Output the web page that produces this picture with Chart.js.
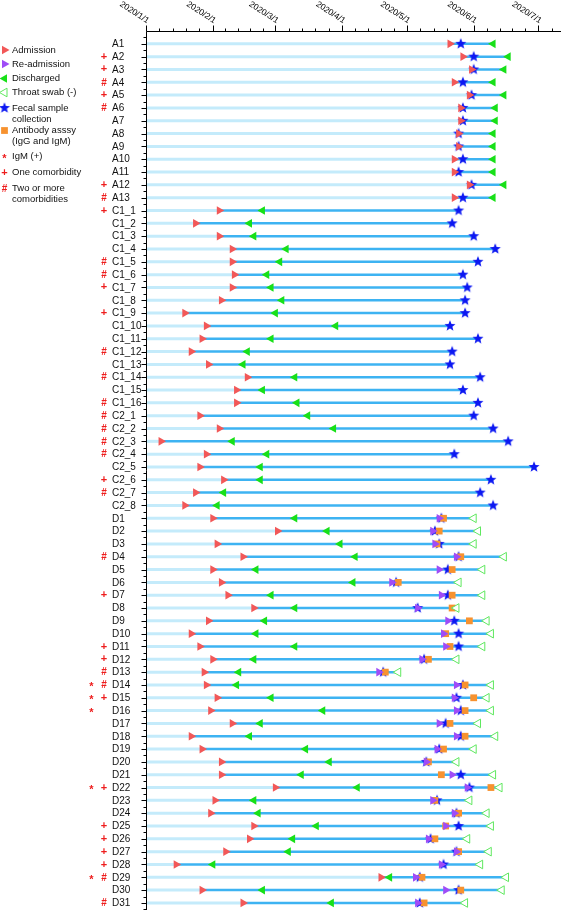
<!DOCTYPE html>
<html><head><meta charset="utf-8">
<script src="https://cdn.jsdelivr.net/npm/chart.js@4.4.0/dist/chart.umd.min.js"></script>
<style>html,body{margin:0;padding:0;background:#fff;}#wrap{width:567px;height:916px;position:relative;}</style>
</head><body><div id="wrap"><canvas id="c" width="567" height="916"></canvas></div>
<script>
// Days are counted from 2020/1/1 (= day 0)
const tickLabels = ['2020/1/1','2020/2/1','2020/3/1','2020/4/1','2020/5/1','2020/6/1','2020/7/1'];
const tickDays = [0,31,60,91,121,152,182];

const rowLabels = ['A1','A2','A3','A4','A5','A6','A7','A8','A9','A10','A11','A12','A13',
 'C1_1','C1_2','C1_3','C1_4','C1_5','C1_6','C1_7','C1_8','C1_9','C1_10','C1_11','C1_12','C1_13','C1_14','C1_15','C1_16',
 'C2_1','C2_2','C2_3','C2_4','C2_5','C2_6','C2_7','C2_8',
 'D1','D2','D3','D4','D5','D6','D7','D8','D9','D10','D11','D12','D13','D14','D15','D16','D17','D18','D19','D20',
 'D21','D22','D23','D24','D25','D26','D27','D28','D29','D30','D31'];

const comorbidity = ['','+','+','#','+','#','','','','','','+','#',
 '+','','','','#','#','+','','+','','','#','','#','','#',
 '#','#','#','#','','+','#','',
 '','','','#','','','+','','','','+','+','#','#','+','','','','','',
 '','+','','','+','+','+','+','#','','#'];

const igmPositive = ['D14','D15','D16','D22','D29'];

const admission = [141,147,151,143,150,146,146,145,145,143,143,150,143,
 34,23,34,40,40,41,40,35,18,28,26,21,29,47,42,42,
 25,34,7,28,25,36,23,18,
 31,61,33,45,31,35,38,50,29,21,25,31,27,28,33,30,40,21,26,35,
 35,60,32,30,50,48,37,14,109,26,45];

const discharged = [161,168,166,161,166,162,162,161,161,161,161,166,161,
 54,48,50,65,62,56,58,63,60,88,58,47,45,69,54,70,
 75,87,40,56,53,53,36,33,
 69,84,90,97,51,96,58,69,55,51,69,50,43,42,58,82,53,48,74,85,
 72,98,50,52,79,68,66,31,113,54,86];

const fecalSample = [146,152,152,147,151,147,147,145,145,147,145,151,147,
 145,142,152,162,154,147,149,148,148,141,154,142,141,155,147,154,
 152,161,168,143,180,160,155,161,
 137,134,136,145,140,116,140,126,143,145,145,129,110,147,144,146,139,146,136,130,
 146,150,135,144,145,132,144,138,127,145,127];

const N0 = null;
const readmission = [N0,N0,N0,N0,N0,N0,N0,N0,N0,N0,N0,N0,N0,
 N0,N0,N0,N0,N0,N0,N0,N0,N0,N0,N0,N0,N0,N0,N0,N0,
 N0,N0,N0,N0,N0,N0,N0,N0,
 136,133,134,144,136,114,137,126,140,138,139,128,108,144,143,144,136,144,135,130,
 142,149,133,143,139,131,144,137,125,139,126];

const antibody = [N0,N0,N0,N0,N0,N0,N0,N0,N0,N0,N0,N0,N0,
 N0,N0,N0,N0,N0,N0,N0,N0,N0,N0,N0,N0,N0,N0,N0,N0,
 N0,N0,N0,N0,N0,N0,N0,N0,
 138,136,135,146,142,117,142,142,150,139,141,131,111,148,152,148,141,148,138,131,
 137,160,134,145,139,134,145,N0,128,146,129];

const throatSwab = [N0,N0,N0,N0,N0,N0,N0,N0,N0,N0,N0,N0,N0,
 N0,N0,N0,N0,N0,N0,N0,N0,N0,N0,N0,N0,N0,N0,N0,N0,
 N0,N0,N0,N0,N0,N0,N0,N0,
 152,154,152,166,156,145,156,144,158,160,156,144,117,160,158,160,154,162,152,144,
 161,164,150,158,160,149,159,155,167,165,148];

// ---------- styles ----------
const C = {
  light:'#c4ebfb', dark:'#3db3f2', adm:'#f25858', readm:'#9f4cf7', dis:'#18e018',
  throat:'#5fe85f', fecal:'#0c18f2', anti:'#f7922f', red:'#ee1c1c'
};
const FONT = '"Liberation Sans", Arial, sans-serif';

function makeStar(color, R, r){
  const s = Math.ceil(R*2+2);
  const c = document.createElement('canvas'); c.width = s; c.height = s;
  const g = c.getContext('2d'); g.fillStyle = color; g.beginPath();
  for (let k=0;k<10;k++){
    const rad = k%2 ? r : R; const a = -Math.PI/2 + k*Math.PI/5;
    const px = s/2 + rad*Math.cos(a), py = s/2 + rad*Math.sin(a);
    if (k) g.lineTo(px,py); else g.moveTo(px,py);
  }
  g.closePath(); g.fill(); return c;
}
const starImg = makeStar(C.fecal, 5.8, 2.5);

function pts(arr){ const out=[]; arr.forEach((v,i)=>{ if(v!==null) out.push({x:v,y:i}); }); return out; }

const datasets = [];
rowLabels.forEach((lab,i)=>{
  const ev = [admission[i],discharged[i],fecalSample[i],readmission[i],antibody[i],throatSwab[i]].filter(v=>v!==null);
  const end = Math.max(...ev);
  datasets.push({type:'line', data:[{x:0,y:i},{x:admission[i],y:i}], borderColor:C.light, borderWidth:3,
    pointRadius:0, order:20, borderCapStyle:'butt'});
  datasets.push({type:'line', data:[{x:admission[i],y:i},{x:end,y:i}], borderColor:C.dark, borderWidth:2.5,
    pointRadius:0, order:19, borderCapStyle:'butt'});
});
function scatter(arr, style, color, order, extra){
  return Object.assign({type:'scatter', data:pts(arr), pointStyle:style, pointRadius:5, pointBackgroundColor:color,
    pointBorderColor:color, pointBorderWidth:0, pointHoverRadius:5, order}, extra||{});
}
datasets.push(scatter(fecalSample, starImg, C.fecal, 6));
datasets.push(scatter(antibody, 'rect', C.anti, 5, {pointRadius:4.8}));
datasets.push(scatter(readmission, 'triangle', C.readm, 4, {pointRotation:90}));
datasets.push(scatter(admission, 'triangle', C.adm, 3, {pointRotation:90}));
datasets.push(scatter(discharged, 'triangle', C.dis, 2, {pointRotation:-90}));
datasets.push(scatter(throatSwab, 'triangle', '#ffffff', 1, {pointRotation:-90, pointBorderColor:C.throat, pointBorderWidth:1}));

function drawMark(ctx, style, color, x, y, rot, r, outline){
  ctx.save();
  ctx.fillStyle = outline ? '#fff' : color; ctx.strokeStyle = color; ctx.lineWidth = outline ? 1 : 0;
  Chart.helpers.drawPoint(ctx, {pointStyle:style, radius:r, rotation:rot||0, borderWidth: outline?1:0}, x, y);
  ctx.restore();
}
function drawSym(ctx, sym, x, y){
  ctx.save(); ctx.fillStyle = C.red; ctx.textAlign='center'; ctx.textBaseline='middle';
  if (sym==='#') { ctx.font = 'bold 10px '+FONT; ctx.fillText('#', x, y+0.5); }
  else if (sym==='+') { ctx.font = 'bold 11px '+FONT; ctx.fillText('+', x, y); }
  else { ctx.font = 'bold 11px '+FONT; ctx.fillText('*', x, y+2.5); }
  ctx.restore();
}

const axesPlugin = {
  id:'customAxes',
  afterDatasetsDraw(chart){
    const {ctx, chartArea:a, scales:{x,y}} = chart;
    ctx.save();
    ctx.strokeStyle = '#000'; ctx.lineWidth = 1;
    const top = Math.round(a.top)+0.5, left = Math.round(a.left)+0.5;
    ctx.beginPath(); ctx.moveTo(left, top); ctx.lineTo(a.right, top); ctx.stroke();
    ctx.beginPath(); ctx.moveTo(left, top); ctx.lineTo(left, a.bottom); ctx.stroke();
    // x ticks (major at months, 4 minors between)
    const minors = [];
    for (let k=0;k<tickDays.length;k++){
      const d0 = tickDays[k];
      const step = k<tickDays.length-1 ? (tickDays[k+1]-d0)/5 : 6.1;
      for (let m=1;m<5;m++){ const d=d0+m*step; if (d<=x.max) minors.push(d); }
    }
    ctx.beginPath();
    tickDays.forEach(d=>{ const px=Math.round(x.getPixelForValue(d))+0.5; ctx.moveTo(px, top); ctx.lineTo(px, top-6); });
    minors.forEach(d=>{ const px=Math.round(x.getPixelForValue(d))+0.5; ctx.moveTo(px, top); ctx.lineTo(px, top-3); });
    ctx.stroke();
    // x labels rotated
    ctx.fillStyle = '#000'; ctx.font = '8.5px '+FONT; ctx.textAlign='right'; ctx.textBaseline='alphabetic';
    tickDays.forEach((d,k)=>{
      const px = x.getPixelForValue(d);
      ctx.save(); ctx.translate(px+1, top-8); ctx.rotate(33*Math.PI/180);
      ctx.fillText(tickLabels[k], 0, 0); ctx.restore();
    });
    // y ticks
    ctx.beginPath();
    rowLabels.forEach((lab,i)=>{
      const py = Math.round(y.getPixelForValue(i))+0.5; ctx.moveTo(left, py); ctx.lineTo(left-5, py);
      const pm = Math.round(y.getPixelForValue(i-0.5))+0.5; ctx.moveTo(left, pm); ctx.lineTo(left-3, pm);
    });
    const pl = Math.round(y.getPixelForValue(rowLabels.length-0.5))+0.5; ctx.moveTo(left, pl); ctx.lineTo(left-3, pl);
    ctx.stroke();
    // row labels
    ctx.font = '10px '+FONT; ctx.textAlign='left'; ctx.textBaseline='middle'; ctx.fillStyle='#111';
    rowLabels.forEach((lab,i)=>{
      const py = y.getPixelForValue(i);
      ctx.fillText(lab, 112, py+0.5);
      if (comorbidity[i]) drawSym(ctx, comorbidity[i], 104, py);
      if (igmPositive.includes(lab)) drawSym(ctx, '*', 91.5, py);
    });
    // legend
    const lx = 4.5, tx = 12;
    const legend = [
      {t:['Admission'], y:50, m:()=>drawMark(ctx,'triangle',C.adm,lx,50,90,5)},
      {t:['Re-admission'], y:64, m:()=>drawMark(ctx,'triangle',C.readm,lx,64,90,5)},
      {t:['Discharged'], y:78.5, m:()=>drawMark(ctx,'triangle',C.dis,lx,78.5,-90,5)},
      {t:['Throat swab (-)'], y:92.5, m:()=>drawMark(ctx,'triangle',C.throat,lx,92.5,-90,5,true)},
      {t:['Fecal sample','collection'], y:108, m:()=>ctx.drawImage(starImg, lx-starImg.width/2, 108-starImg.height/2)},
      {t:['Antibody asssy','(IgG and IgM)'], y:130.5, m:()=>drawMark(ctx,'rect',C.anti,lx,130.5,0,4.8)},
      {t:['IgM (+)'], y:156.5, m:()=>drawSym(ctx,'*',lx,156.5)},
      {t:['One comorbidity'], y:172.5, m:()=>drawSym(ctx,'+',lx,172.5)},
      {t:['Two or more','comorbidities'], y:188.5, m:()=>drawSym(ctx,'#',lx,188.5)}
    ];
    legend.forEach(it=>{
      it.m();
      ctx.font = '9.5px '+FONT; ctx.fillStyle='#111'; ctx.textAlign='left'; ctx.textBaseline='middle';
      it.t.forEach((s,j)=>ctx.fillText(s, tx, it.y + j*11));
    });
    ctx.restore();
  }
};

new Chart(document.getElementById('c'), {
  data:{datasets},
  options:{
    responsive:false, animation:false, devicePixelRatio:1,
    layout:{padding:{left:146, top:31, right:2, bottom:4}},
    plugins:{legend:{display:false}, tooltip:{enabled:false}},
    scales:{
      x:{type:'linear', min:0, max:192.5, display:false},
      y:{type:'linear', min:-1, max:67.55, reverse:true, display:false}
    }
  },
  plugins:[axesPlugin]
});
</script></body></html>
